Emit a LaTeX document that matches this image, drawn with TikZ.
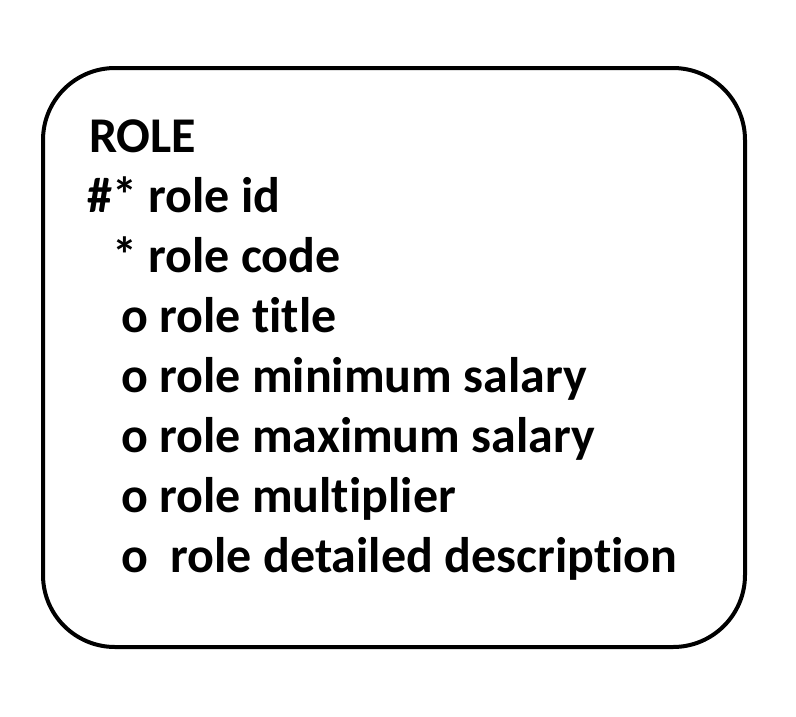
\documentclass[tikz,border=0pt]{standalone}
\usepackage{fontspec}
\setmainfont[Ligatures=CommonOff]{Carlito}
\begin{document}
\begin{tikzpicture}[x=1pt,y=-1pt,
  txt/.style={anchor=base west,inner sep=0pt,font=\fontsize{50}{60}\selectfont\bfseries}]
\useasboundingbox (0,0) rectangle (796,716);
\fill[white] (0,0) rectangle (796,716);
\node[draw,line width=4pt,rounded corners=72pt,minimum width=702pt,minimum height=579pt,inner sep=0pt] (box) at (394,357.5) {};
\node[txt] (l1) at (89,152) {ROLE};
\node[txt] (l2) at (87,212) {\#* role id};
\node[txt] (l3) at (112,272) {* role code};
\node[txt] (l4) at (121,332) {o role title};
\node[txt] (l5) at (121,392) {o role minimum salary};
\node[txt] (l6) at (121,452) {o role maximum salary};
\node[txt] (l7) at (121,512) {o role multiplier};
\node[txt] (l8) at (121,572) {o\hspace{0.45em}role detailed description};
\end{tikzpicture}
\end{document}
